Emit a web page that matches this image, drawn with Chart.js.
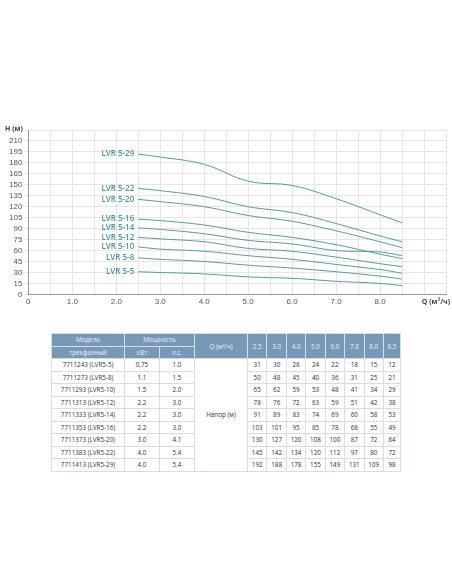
<!DOCTYPE html><html><head><meta charset="utf-8">
<script src="https://cdn.jsdelivr.net/npm/chart.js@4/dist/chart.umd.min.js"></script>
<style>
body{margin:0;background:#fff;font-family:"Open Sans",sans-serif;}
#wrap{position:absolute;left:0;top:118px;width:452px;height:200px;}
table{position:absolute;left:51px;top:333px;width:350px;border-collapse:collapse;font-size:6.3px;color:#333;}
td,th{border:1px solid #d8dde2;text-align:center;height:11.5px;padding:0 2px;}
th{background:#7898b8;color:#eef;font-weight:normal;}
</style></head><body>
<div id="wrap"><canvas id="c"></canvas></div>
<table id="t"></table>
<script>
const flows=[2.5,3.0,4.0,5.0,6.0,7.0,8.0,8.5];
const models=["LVR 5-5","LVR 5-8","LVR 5-10","LVR 5-12","LVR 5-14","LVR 5-16","LVR 5-20","LVR 5-22","LVR 5-29"];
const codes=["7711243 (LVR5-5)","7711273 (LVR5-8)","7711293 (LVR5-10)","7711313 (LVR5-12)","7711333 (LVR5-14)","7711353 (LVR5-16)","7711373 (LVR5-20)","7711383 (LVR5-22)","7711413 (LVR5-29)"];
const kw=["0.75","1.1","1.5","2.2","2.2","2.2","3.0","4.0","4.0"];
const hp=["1.0","1.5","2.0","3.0","3.0","3.0","4.1","5.4","5.4"];
const heads=[
[31,30,28,24,22,18,15,12],
[50,48,45,40,36,31,25,21],
[65,62,59,53,48,41,34,29],
[78,76,72,63,59,51,42,38],
[91,89,83,74,69,60,58,53],
[103,101,95,85,78,68,55,49],
[130,127,120,108,100,87,72,64],
[145,142,134,120,112,97,80,72],
[192,188,178,155,149,131,109,98]];
const yTicks=[0,15,30,45,60,75,90,105,120,135,150,165,180,195,210];
const col="#5b9a9c";
const labelPlugin={id:"lbl",afterDatasetsDraw(ch){const c=ch.ctx;c.save();c.font="600 8px 'Open Sans'";c.fillStyle="#4a969b";c.textAlign="right";c.textBaseline="middle";
ch.data.datasets.forEach((d,i)=>{const p=ch.getDatasetMeta(i).data[0];c.fillText(d.label,p.x-4,p.y);});
c.fillStyle="#444";c.font="bold 7px 'Open Sans'";c.textAlign="left";c.fillText("H (м)",5,11);
c.textAlign="right";c.fillText("Q (м³/ч)",450,ch.scales.x.bottom-8);c.restore();}};
new Chart(document.getElementById("c"),{type:"line",
data:{datasets:models.map((m,i)=>({label:m,data:flows.map((f,j)=>({x:f,y:heads[i][j]})),borderColor:col,borderWidth:1,pointRadius:0,tension:0.4,fill:false}))},
options:{responsive:true,maintainAspectRatio:false,animation:false,
layout:{padding:{left:6,right:6,top:12,bottom:8}},
plugins:{legend:{display:false},tooltip:{enabled:false}},
scales:{x:{type:"linear",min:0,max:9.5,afterBuildTicks:a=>{a.ticks=[];for(let v=0;v<=9.5;v+=0.5)a.ticks.push({value:v});},
ticks:{color:"#555",font:{size:8},maxRotation:0,autoSkip:false,callback:v=>v===0?"0":(v%1===0&&v<9?v.toFixed(1):"")},
grid:{color:"#e6e6e6",drawTicks:false},border:{color:"#999"}},
y:{min:0,max:225,afterBuildTicks:a=>{a.ticks=yTicks.map(v=>({value:v})).concat([{value:225}]);},
ticks:{color:"#555",font:{size:8},autoSkip:false,callback:v=>v===225?"":v},grid:{color:"#e6e6e6",drawTicks:true,tickLength:3},border:{color:"#999"}}}},
plugins:[labelPlugin]});
let h='<tr><th>Модель</th><th colspan="2">Мощность</th><th rowspan="2" style="width:48px">Q (м³/ч)</th>'+flows.map(f=>'<th rowspan="2">'+f.toFixed(1)+'</th>').join('')+'</tr><tr><th>трехфазный</th><th>кВт</th><th>л.с.</th></tr>';
codes.forEach((c,i)=>{h+='<tr><td style="width:68px">'+c+'</td><td style="width:30px">'+kw[i]+'</td><td style="width:30px">'+hp[i]+'</td>'+(i==0?'<td rowspan="9">Напор (м)</td>':'')+heads[i].map(v=>'<td>'+v+'</td>').join('')+'</tr>';});
document.getElementById("t").innerHTML=h;
</script></body></html>
